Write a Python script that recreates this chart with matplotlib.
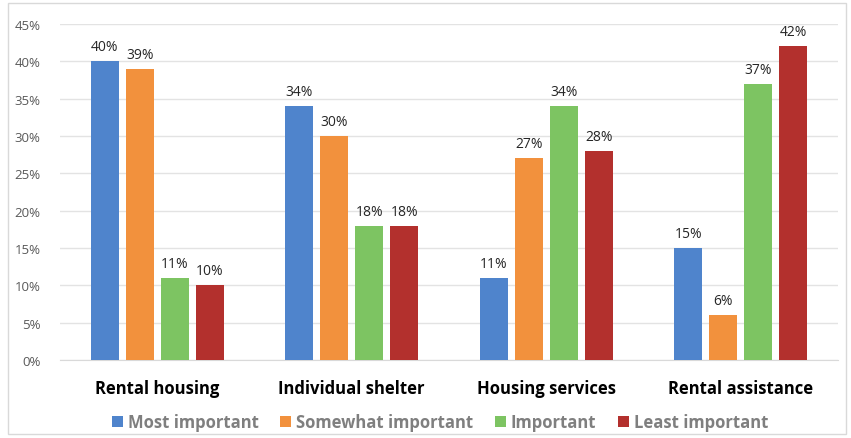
import numpy as np
import matplotlib.pyplot as plt
from matplotlib.patches import Rectangle

categories = ['Rental housing', 'Individual shelter', 'Housing services', 'Rental assistance']
series = ['Most important', 'Somewhat important', 'Important', 'Least important']
most = [40, 34, 11, 15]
somewhat = [39, 30, 27, 6]
important = [11, 18, 34, 37]
least = [10, 18, 28, 42]
colors = ['#4F84CC', '#F2913D', '#7DC462', '#B3302D']
yticks = [0, 5, 10, 15, 20, 25, 30, 35, 40, 45]

plt.rcParams['font.family'] = ['Open Sans', 'DejaVu Sans']

fig = plt.figure(figsize=(8.51, 4.39), dpi=100)
ax = fig.add_axes([60 / 851, 1 - 361 / 439, 778 / 851, 336 / 439])

# light frame around the chart
fig.patches.append(Rectangle((8 / 851, 4 / 439), 838 / 851, 431 / 439,
                             transform=fig.transFigure, fill=False,
                             edgecolor='#D9D9D9', linewidth=1))

x = np.arange(len(categories))
width = 0.145
step = 0.18
for i, (vals, col, name) in enumerate(zip([most, somewhat, important, least], colors, series)):
    pos = x + (i - 1.5) * step
    bars = ax.bar(pos, vals, width, color=col, label=name, zorder=3)
    for b, v in zip(bars, vals):
        ax.annotate(f'{v}%', (b.get_x() + b.get_width() / 2, v), xytext=(0, 5),
                    textcoords='offset points', ha='center', va='bottom',
                    fontsize=10, color='#262626')

ax.set_xlim(-0.5, 3.5)
ax.set_ylim(0, 45)
ax.set_yticks(yticks)
ax.set_yticklabels([f'{t}%' for t in yticks], fontsize=9.5, color='#595959')
ax.yaxis.grid(True, color='#E3E3E3', linewidth=1, zorder=0)
ax.set_xticks(x)
ax.set_xticklabels(categories, fontsize=12, fontweight='bold', color='black')
ax.tick_params(axis='both', length=0)
ax.tick_params(axis='x', pad=14)
ax.tick_params(axis='y', pad=14)
for s in ['top', 'right', 'left']:
    ax.spines[s].set_visible(False)
ax.spines['bottom'].set_color('#D9D9D9')

leg = fig.legend(loc='center', bbox_to_anchor=(440 / 851, 1 - 423 / 439), ncol=4,
                 frameon=False, handlelength=0.65, handleheight=0.65,
                 handletextpad=0.3, columnspacing=1.3,
                 prop={'size': 12, 'weight': 'bold'})
for t in leg.get_texts():
    t.set_color('#7F7F7F')

fig.savefig('out.png', dpi=100)
